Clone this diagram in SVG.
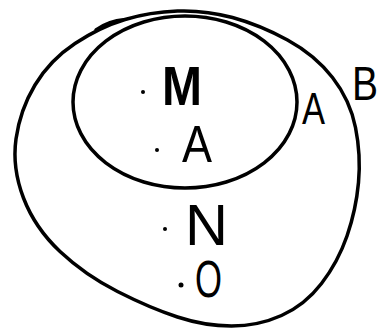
<svg xmlns="http://www.w3.org/2000/svg" width="384" height="332" viewBox="0 0 384 332">
<style>
.ln{fill:none;stroke:#000;stroke-width:3.5;stroke-linecap:round;stroke-linejoin:round}
.t{font-family:"Liberation Sans",Arial,sans-serif;fill:#000}
.d{fill:#000}
</style>
<rect width="384" height="332" fill="#fff"/>
<g id="B">
<path class="ln" d="M96,30 Q108,21 125,19.5 Q150,12 177.5,11 Q205,10 232.5,17.5 Q260,25 287.5,40 Q315,55 332.5,77.5 Q350,100 355.5,127.5 Q361,155 358.5,182.5 Q356,210 347,236 Q338,262 321.5,283.5 Q305,305 281.5,315.5 Q258,326 231.5,326 Q205,326 177.5,317 Q150,308 117.5,291.5 Q85,275 60,251.5 Q35,228 23.5,198 Q12,168 16,139 Q20,110 35,85 Q50,60 75,43.5 Q100,27 125,19.5"/>
<text class="t" x="352" y="100" font-size="49" textLength="26" lengthAdjust="spacingAndGlyphs">B</text>
</g>
<g id="A">
<ellipse class="ln" cx="185" cy="102" rx="112" ry="86"/>
<text class="t" x="302" y="124" font-size="45" textLength="23" lengthAdjust="spacingAndGlyphs">A</text>
</g>
<g id="M">
<circle class="d" cx="143" cy="92" r="2"/>
<text class="t" x="162" y="105" font-size="56" textLength="40" lengthAdjust="spacingAndGlyphs" font-weight="bold">M</text>
</g>
<g id="A-elem">
<circle class="d" cx="157" cy="150" r="2"/>
<text class="t" x="182" y="162" font-size="52" textLength="30" lengthAdjust="spacingAndGlyphs">A</text>
</g>
<g id="N">
<circle class="d" cx="165" cy="229" r="2"/>
<text class="t" x="185" y="245" font-size="58" textLength="43" lengthAdjust="spacingAndGlyphs">N</text>
</g>
<g id="O">
<circle class="d" cx="181" cy="285" r="2.5"/>
<text class="t" x="195" y="297" font-size="52" textLength="27" lengthAdjust="spacingAndGlyphs">O</text>
</g>
</svg>
